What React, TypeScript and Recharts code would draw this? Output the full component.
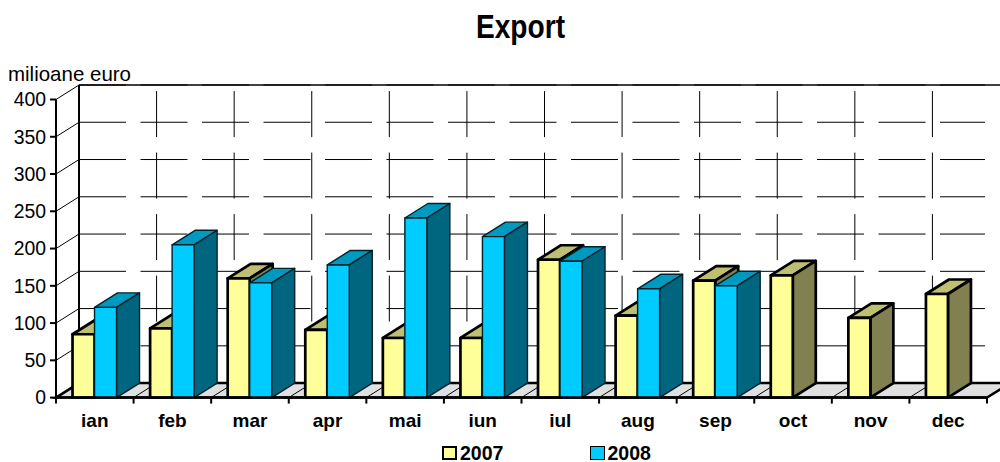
import { BarChart, Bar, XAxis, YAxis, Legend, ReferenceLine } from 'recharts'

const months = ['ian', 'feb', 'mar', 'apr', 'mai', 'iun', 'iul', 'aug', 'sep', 'oct', 'nov', 'dec']
const values2007 = [85, 93, 160, 91, 80, 80, 185, 110, 157, 164, 107, 139]
const values2008 = [121, 205, 154, 178, 241, 216, 183, 146, 150, null, null, null]
const yTicks = [0, 50, 100, 150, 200, 250, 300, 350, 400]

const data = months.map((month, i) => ({
  month,
  y2007: values2007[i],
  y2008: values2008[i]
}))

const FONT = '"Liberation Sans", Arial, sans-serif'
// offset of the back of the 3d box
const DX = 23
const DY = 14.5
const YELLOW = { front: '#ffff99', top: '#bfbf73', side: '#808050' }
const BLUE = { front: '#00ccff', top: '#0099bf', side: '#006680' }
// keeps floor and wall behind the bars
const BACK = -50

function makeBox(colors: typeof YELLOW, strokeWidth: number, stroke: string) {
  return function Box3D({ x, y, width, height }: any) {
    if (!height || height <= 0) return null
    const common = { stroke, strokeWidth, strokeLinejoin: 'round' as const }
    return (
      <g>
        <polygon
          points={`${x},${y} ${x + width},${y} ${x + width + DX},${y - DY} ${x + DX},${y - DY}`}
          fill={colors.top}
          {...common}
        />
        <polygon
          points={`${x + width},${y} ${x + width + DX},${y - DY} ${x + width + DX},${y + height - DY} ${x + width},${y + height}`}
          fill={colors.side}
          {...common}
        />
        <rect x={x} y={y} width={width} height={height} fill={colors.front} {...common} />
      </g>
    )
  }
}

// back wall line + diagonal on the side wall for one y value
function WallLine({ x1, x2, y1 }: any) {
  const left = Math.min(x1, x2)
  const right = Math.max(x1, x2)
  const backY = y1 - DY
  return (
    <g>
      <line x1={left} y1={y1} x2={left + DX} y2={backY} stroke="#000" strokeWidth={1} />
      <line
        x1={left + DX}
        y1={backY}
        x2={right - 2}
        y2={backY}
        stroke="#000"
        strokeWidth={1}
        strokeDasharray="47 14.5"
      />
    </g>
  )
}

function WallTop({ x1, x2, y1 }: any) {
  const left = Math.min(x1, x2)
  const right = Math.max(x1, x2)
  return <line x1={left + DX} y1={y1 - DY} x2={right + DX} y2={y1 - DY} stroke="#000" strokeWidth={1.4} />
}

// grey floor with thick edges
function Floor({ x1, x2, y1 }: any) {
  const left = Math.min(x1, x2)
  const right = Math.max(x1, x2)
  return (
    <polygon
      points={`${left},${y1} ${left + DX},${y1 - DY} ${right + DX},${y1 - DY} ${right},${y1}`}
      fill="#e0e0e0"
      stroke="#000"
      strokeWidth={2.5}
    />
  )
}

function WallCorner({ x1, y1, y2 }: any) {
  return (
    <line
      x1={x1 + DX}
      y1={Math.max(y1, y2) - DY}
      x2={x1 + DX}
      y2={Math.min(y1, y2) - DY}
      stroke="#000"
      strokeWidth={2}
    />
  )
}

// vertical wall gridline, floor diagonal and tick under the axis
function MonthLine({ x1, y1, y2, showGrid }: any) {
  const top = Math.min(y1, y2)
  const bottom = Math.max(y1, y2)
  return (
    <g>
      {showGrid && (
        <line
          x1={x1 + DX}
          y1={bottom - DY}
          x2={x1 + DX}
          y2={top - DY}
          stroke="#000"
          strokeWidth={1}
          strokeDasharray="46 15.5"
        />
      )}
      <line x1={x1} y1={bottom} x2={x1 + DX} y2={bottom - DY} stroke="#000" strokeWidth={1} />
      <line x1={x1} y1={bottom} x2={x1} y2={bottom + 6} stroke="#000" strokeWidth={2} />
    </g>
  )
}

function LegendContent({ payload }: any) {
  return (
    <div style={{ position: 'relative', height: 20 }}>
      {(payload || []).map((item: any, i: number) => (
        <div
          key={item.value}
          style={{
            position: 'absolute',
            left: 442 + i * 147.5,
            top: 0,
            display: 'flex',
            alignItems: 'center',
            fontFamily: FONT,
            fontWeight: 'bold',
            fontSize: 19.5,
            lineHeight: '20px',
            color: '#000'
          }}
        >
          <span
            style={{
              boxSizing: 'border-box',
              width: 15,
              height: 14,
              background: item.color,
              border: i === 0 ? '2.5px solid #000' : '1.5px solid #000',
              marginRight: 3
            }}
          />
          {item.value}
        </div>
      ))}
    </div>
  )
}

export default function App() {
  return (
    <div style={{ position: 'absolute', left: 0, top: 0, width: 1000, height: 462 }}>
      <BarChart
        width={1000}
        height={462}
        data={data}
        margin={{ top: 99.5, right: 13, bottom: 34.4, left: 0 }}
        barCategoryGap="21.3%"
        barGap={0}
      >
        <text
          x={476}
          y={38}
          fontFamily={FONT}
          fontWeight="bold"
          fontSize={33.5}
          textLength={89}
          lengthAdjust="spacingAndGlyphs"
        >
          Export
        </text>
        <text x={8} y={81} fontFamily={FONT} fontSize={21} textLength={123} lengthAdjust="spacingAndGlyphs">
          milioane euro
        </text>
        <XAxis
          dataKey="month"
          height={30}
          interval={0}
          tickLine={false}
          axisLine={{ stroke: '#000', strokeWidth: 2.5 }}
          tickMargin={10}
          tick={{ fill: '#000', fontFamily: FONT, fontWeight: 'bold', fontSize: 19 }}
        />
        <YAxis
          width={56}
          domain={[0, 400]}
          ticks={yTicks}
          interval={0}
          tickSize={6}
          tickMargin={4}
          tickLine={{ stroke: '#000', strokeWidth: 2 }}
          axisLine={{ stroke: '#000', strokeWidth: 2 }}
          tick={{ fill: '#000', fontFamily: FONT, fontSize: 19.4 }}
        />
        <ReferenceLine y={0} shape={Floor} zIndex={BACK} />
        {yTicks.map(v => (
          <ReferenceLine key={v} y={v} shape={WallLine} zIndex={BACK} />
        ))}
        <ReferenceLine y={400} shape={WallTop} zIndex={BACK} />
        {months.map((m, i) => (
          <ReferenceLine
            key={m}
            x={m}
            position="start"
            zIndex={BACK}
            shape={(props: any) => <MonthLine {...props} showGrid={i > 0} />}
          />
        ))}
        <ReferenceLine
          x="dec"
          position="end"
          zIndex={BACK}
          shape={(props: any) => <MonthLine {...props} showGrid={false} />}
        />
        <ReferenceLine x="ian" position="start" shape={WallCorner} zIndex={BACK} />
        <Legend verticalAlign="middle" wrapperStyle={{ top: 443, left: 0, width: 1000 }} content={LegendContent} />
        <Bar dataKey="y2007" name="2007" fill={YELLOW.front} isAnimationActive={false} shape={makeBox(YELLOW, 2.7, '#000')} />
        <Bar dataKey="y2008" name="2008" fill={BLUE.front} isAnimationActive={false} shape={makeBox(BLUE, 1.4, '#00222c')} />
      </BarChart>
    </div>
  )
}
